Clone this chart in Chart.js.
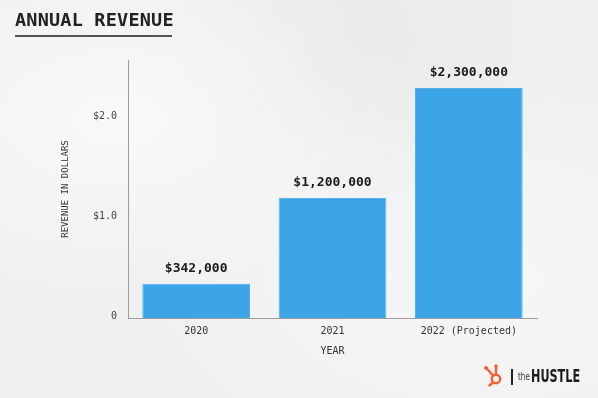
<!DOCTYPE html>
<html>
<head>
<meta charset="utf-8">
<script src="https://cdn.jsdelivr.net/npm/chart.js@4"></script>
<style>
  html, body { margin:0; padding:0; }
  body {
    width:598px; height:398px; overflow:hidden; position:relative;
    background:
      radial-gradient(ellipse at 20% 30%, rgba(255,255,255,0.6), rgba(255,255,255,0) 45%),
      radial-gradient(ellipse at 80% 70%, rgba(255,255,255,0.45), rgba(255,255,255,0) 50%),
      radial-gradient(ellipse at 60% 10%, rgba(228,228,228,0.5), rgba(228,228,228,0) 40%),
      #f0f0f0;
    font-family: "DejaVu Sans Mono", monospace;
  }
  #wrap { position:absolute; left:0; top:0; width:598px; height:398px; }
  #title {
    position:absolute; left:15px; top:9px; font-size:18.5px; font-weight:bold; color:#222;
    font-family:"DejaVu Sans Mono", monospace; letter-spacing:0.2px; white-space:nowrap;
  }
  #uline { position:absolute; left:15px; top:35px; width:157px; height:1.5px; background:#555; }
  #vbar { position:absolute; left:511px; top:369px; width:1.5px; height:16px; background:#222; }
  #the { position:absolute; left:518px; top:371px; font-family:"DejaVu Sans Condensed","DejaVu Sans",sans-serif; font-size:10px; color:#333; transform:scaleX(0.8); transform-origin:left top; }
  #hustle { position:absolute; left:531px; top:366px; font-family:"DejaVu Sans",sans-serif; font-weight:bold; font-size:17px; color:#1c1c1c; transform:scaleX(0.66); transform-origin:left top; white-space:nowrap; }
</style>
</head>
<body>
<div id="wrap"><canvas id="c" width="598" height="398"></canvas></div>
<div id="title">ANNUAL REVENUE</div>
<div id="uline"></div>
<svg width="26" height="26" viewBox="0 0 26 26" style="position:absolute;left:481px;top:362px;">
  <g stroke="#f4602f" fill="none" stroke-width="2.4" stroke-linecap="round">
    <circle cx="15" cy="17" r="4.2"/>
    <line x1="12" y1="13.5" x2="6" y2="7"/>
    <line x1="15" y1="12.8" x2="15" y2="5"/>
    <line x1="12" y1="20.5" x2="8.5" y2="23.5"/>
  </g>
  <circle cx="5" cy="6" r="2" fill="#f4602f"/>
  <circle cx="15" cy="4" r="1.8" fill="#f4602f"/>
</svg>
<div id="vbar"></div>
<div id="the">the</div>
<div id="hustle">HUSTLE</div>
<script>
const categories = ["2020", "2021", "2022 (Projected)"];
const revenueMillions = [0.342, 1.2, 2.3];
const valueLabels = ["$342,000", "$1,200,000", "$2,300,000"];
const tickValues = [0, 1, 2];
const tickLabels = ["0", "$1.0", "$2.0"];

const barLabelPlugin = {
  id: 'barLabels',
  afterDatasetsDraw(chart) {
    const ctx = chart.ctx;
    const meta = chart.getDatasetMeta(0);
    ctx.save();
    ctx.font = 'bold 13px "DejaVu Sans Mono", monospace';
    ctx.fillStyle = '#1a1a1a';
    ctx.textAlign = 'center';
    ctx.textBaseline = 'middle';
    meta.data.forEach((bar, i) => {
      ctx.fillText(valueLabels[i], bar.x, bar.y - 15);
    });
    ctx.restore();
  }
};

new Chart(document.getElementById('c'), {
  type: 'bar',
  data: {
    labels: categories,
    datasets: [{
      data: revenueMillions,
      backgroundColor: '#3ba5e8',
      borderColor: '#55b0e6',
      borderWidth: 1,
      categoryPercentage: 0.79,
      barPercentage: 1.0
    }]
  },
  options: {
    responsive: false,
    animation: false,
    devicePixelRatio: 1,
    layout: { padding: { left: 56, right: 61, top: 60, bottom: 37 } },
    plugins: { legend: { display: false }, tooltip: { enabled: false } },
    scales: {
      x: {
        grid: { display: false, drawTicks: false },
        border: { display: true, color: '#9c9c9c', width: 1 },
        ticks: { color: '#333', font: { family: '"DejaVu Sans Mono", monospace', size: 10 }, padding: 7, maxRotation: 0 },
        title: { display: true, text: 'YEAR', color: '#333', font: { family: '"DejaVu Sans Mono", monospace', size: 10 }, padding: { top: 4, bottom: 4 } },
        afterFit(s) { s.height = 43; }
      },
      y: {
        min: 0, max: 2.58,
        grid: { display: false, drawTicks: false },
        border: { display: true, color: '#9c9c9c', width: 1 },
        afterBuildTicks(s) { s.ticks = tickValues.map(v => ({ value: v })); },
        ticks: {
          color: '#444', font: { family: '"DejaVu Sans Mono", monospace', size: 10 }, padding: 11, labelOffset: -2,
          callback(v) { const i = tickValues.indexOf(v); return i >= 0 ? tickLabels[i] : ''; }
        },
        title: { display: true, text: 'REVENUE IN DOLLARS', color: '#333', font: { family: '"DejaVu Sans Mono", monospace', size: 9 }, padding: { top: 4, bottom: 4 } },
        afterFit(s) { s.width = 72; }
      }
    }
  },
  plugins: [barLabelPlugin]
});
</script>
</body>
</html>
